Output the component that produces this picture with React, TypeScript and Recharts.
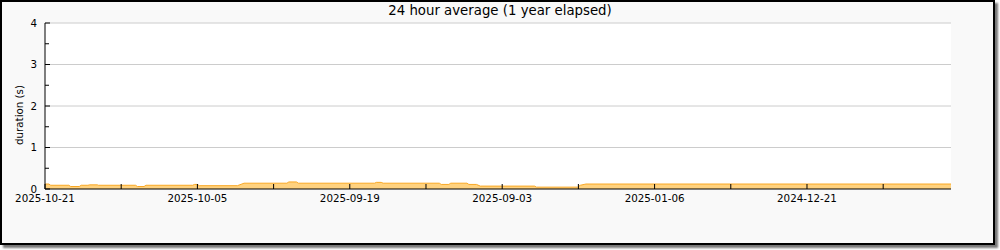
import React from 'react';
import { AreaChart, Area, XAxis, YAxis, CartesianGrid, ReferenceLine } from 'recharts';

const days = [0, 0.4, 0.6, 2.5, 2.7, 3.6, 3.8, 4.5, 4.7, 5.5, 5.6, 9.5, 9.7, 10.4, 10.6, 15.5, 15.7, 16.0, 16.2, 20.2, 20.9, 25.4, 25.6, 26.4, 26.6, 34.6, 34.8, 35.3, 35.5, 41.4, 41.6, 42.4, 42.6, 44.3, 44.5, 45.3, 45.7, 51.4, 51.6, 55.9, 56.2, 56.6, 56.8, 95.2];
const values = [0.12, 0.12, 0.09, 0.09, 0.06, 0.06, 0.09, 0.09, 0.1, 0.1, 0.09, 0.09, 0.06, 0.06, 0.09, 0.09, 0.11, 0.11, 0.08, 0.08, 0.14, 0.14, 0.17, 0.17, 0.14, 0.14, 0.16, 0.16, 0.14, 0.14, 0.11, 0.11, 0.14, 0.14, 0.11, 0.11, 0.07, 0.07, 0.045, 0.045, 0.09, 0.11, 0.12, 0.12];

const xTicks = [0, 8, 16, 24, 32, 40, 48, 56, 64, 72, 80, 88];
const xTickLabels: Record<number, string> = {
  0: '2025-10-21',
  16: '2025-10-05',
  32: '2025-09-19',
  48: '2025-09-03',
  64: '2025-01-06',
  80: '2024-12-21',
};
const yTicks = [0, 0.5, 1, 1.5, 2, 2.5, 3, 3.5, 4];
const yGrid = [1, 2, 3, 4];

const title = '24 hour average (1 year elapsed)';
const yLabel = 'duration (s)';

const data = days.map((d, i) => ({ day: d, value: values[i] }));

const FONT = '"DejaVu Sans", sans-serif';

const XTick = (props: any) => {
  const { x, y, payload } = props;
  const label = xTickLabels[payload.value];
  return (
    <g>
      <line x1={x} x2={x} y1={y - 5} y2={y} stroke="#000" strokeWidth={1} />
      {label ? (
        <text x={x} y={y + 13} textAnchor="middle" fontSize={10.3} fontFamily={FONT} fill="#000">
          {label}
        </text>
      ) : null}
    </g>
  );
};

const YTick = (props: any) => {
  const { x, y, payload } = props;
  const v = payload.value;
  const major = Number.isInteger(v);
  return (
    <g>
      <line x1={x} x2={x + (major ? 5 : 4)} y1={y} y2={y} stroke="#000" strokeWidth={1} />
      {major ? (
        <text x={x - 8} y={y} dy="0.36em" textAnchor="end" fontSize={10.3} fontFamily={FONT} fill="#000">
          {v}
        </text>
      ) : null}
    </g>
  );
};

export default function App() {
  return (
    <div style={{ position: 'absolute', left: 0, top: 0, width: 1000, height: 250 }}>
      <div
        style={{
          position: 'absolute',
          left: 0,
          top: 0,
          width: 995,
          height: 245,
          boxSizing: 'border-box',
          border: '2px solid #000',
          background: '#f9f9f9',
          boxShadow: '3px 3px 2px #777',
        }}
      />
      <div
        style={{
          position: 'absolute',
          left: 0,
          top: 3,
          width: 1000,
          textAlign: 'center',
          fontFamily: FONT,
          fontSize: 13.3,
          color: '#000',
        }}
      >
        {title}
      </div>
      <div style={{ position: 'absolute', left: 0, top: 0 }}>
        <AreaChart width={1000} height={250} data={data} margin={{ top: 23, right: 49, bottom: 0, left: 0 }}>
          <CartesianGrid horizontal={false} vertical={false} fill="#ffffff" stroke="none" />
          {yGrid.map((g) => (
            <ReferenceLine key={g} y={g} stroke="#cccccc" strokeWidth={1} ifOverflow="extendDomain" />
          ))}
          <XAxis
            dataKey="day"
            type="number"
            domain={[0, 95.12]}
            ticks={xTicks}
            interval={0}
            allowDataOverflow
            height={61}
            tickSize={0}
            tickMargin={0}
            tickLine={false}
            axisLine={{ stroke: '#000', strokeWidth: 1 }}
            tick={<XTick />}
          />
          <YAxis
            type="number"
            domain={[0, 4]}
            ticks={yTicks}
            interval={0}
            allowDataOverflow
            width={45}
            tickSize={0}
            tickMargin={0}
            tickLine={false}
            axisLine={{ stroke: '#000', strokeWidth: 1 }}
            tick={<YTick />}
            label={{
              content: () => (
                <text
                  x={19}
                  y={115}
                  transform="rotate(-90 19 115)"
                  textAnchor="middle"
                  dy="0.36em"
                  fontSize={10.3}
                  fontFamily={FONT}
                  fill="#000"
                >
                  {yLabel}
                </text>
              ),
            }}
          />
          <Area
            type="linear"
            dataKey="value"
            stroke="#f9a825"
            strokeWidth={1}
            fill="#ffd27f"
            fillOpacity={1}
            isAnimationActive={false}
            dot={false}
            activeDot={false}
          />
        </AreaChart>
      </div>
    </div>
  );
}
